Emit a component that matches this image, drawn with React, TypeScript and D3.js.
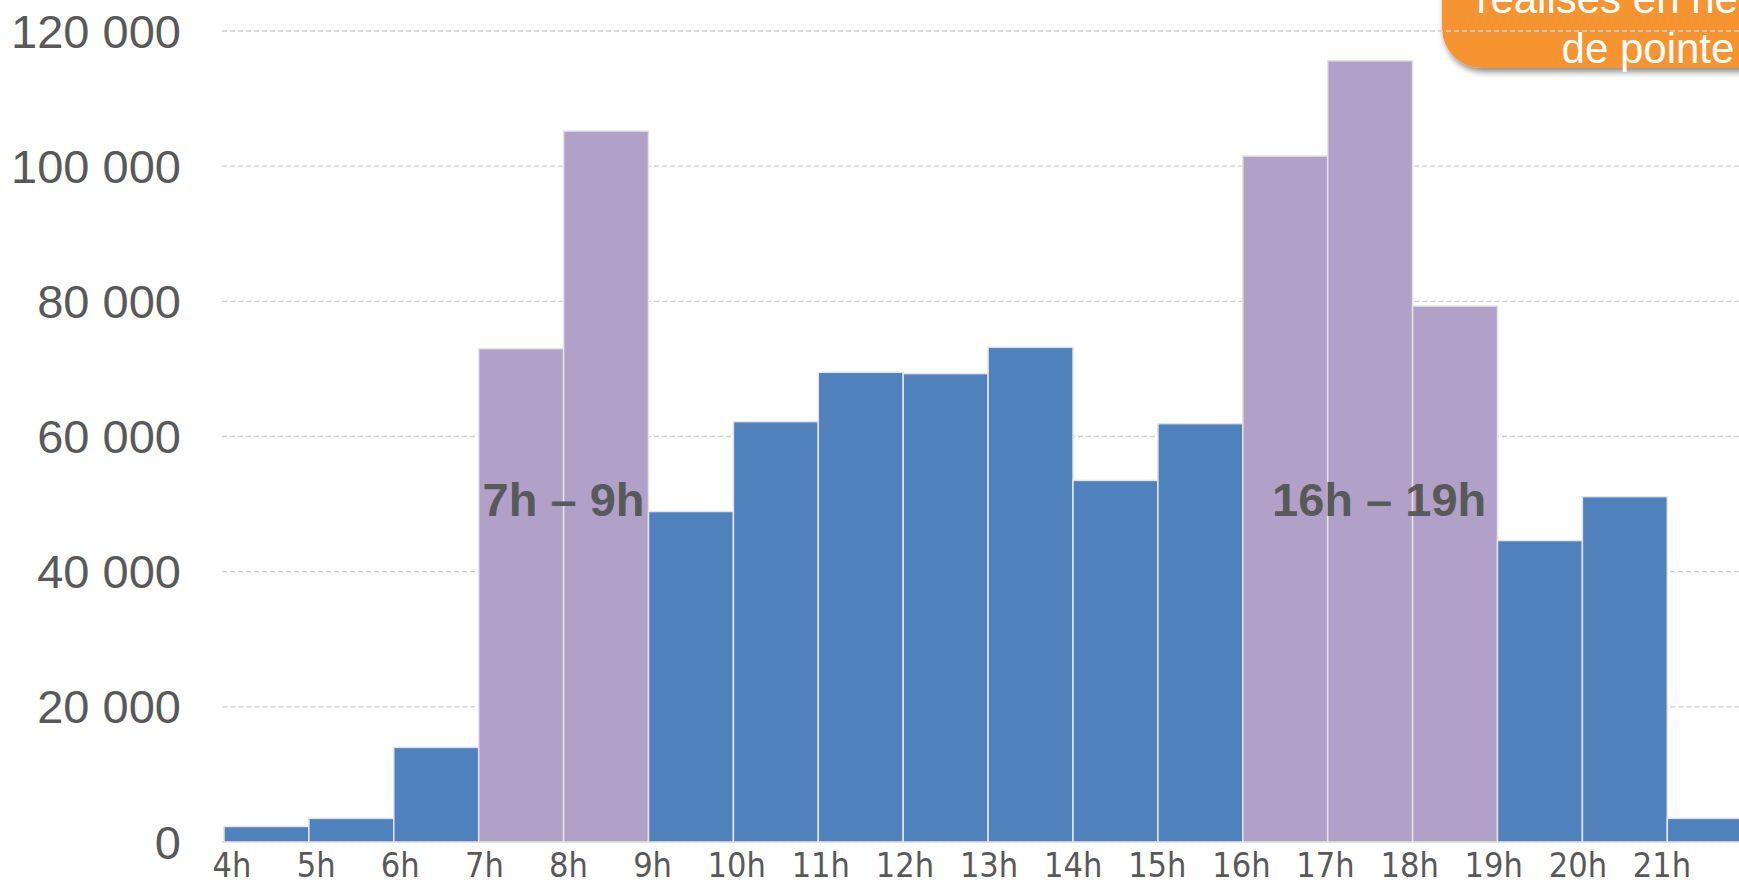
import React from "react";
import * as d3 from "d3";

const hours = ["4h","5h","6h","7h","8h","9h","10h","11h","12h","13h","14h","15h","16h","17h","18h","19h","20h","21h"];
const trips = [2300, 3500, 14000, 73000, 105200, 48900, 62200, 69500, 69300, 73200, 53500, 61900, 101500, 115600, 79300, 44600, 51100, 3500];
const peak = [false,false,false,true,true,false,false,false,false,false,false,false,true,true,true,false,false,false];
const yTicks = [0, 20000, 40000, 60000, 80000, 100000, 120000];
const peakRanges = [{ label: "7h – 9h", from: 3, to: 5, shift: 0 }, { label: "16h – 19h", from: 12, to: 15, shift: 9 }];
const calloutLines = ["réalisés en heures", "de pointe"];

const W = 1739, H = 882;

export default function App() {
  const x = d3.scaleLinear().domain([0, hours.length]).range([224, 224 + hours.length * 84.9]);
  const xl = d3.scaleLinear().domain([0, hours.length - 1]).range([232, 1662]);
  const y = d3.scaleLinear().domain([0, 120000]).range([842, 31]);
  const fmt = (v: number) => d3.format(",")(v).replace(/,/g, " ");
  const grey = "#595959";
  return (
    <svg width={W} height={H} style={{ position: "absolute", left: 0, top: 0, background: "#fff" }}>
      <defs>
        <filter id="sh" x="-20%" y="-20%" width="140%" height="160%">
          <feGaussianBlur in="SourceAlpha" stdDeviation="3" />
          <feOffset dx="2" dy="4" result="b" />
          <feComponentTransfer><feFuncA type="linear" slope="0.45" /></feComponentTransfer>
          <feMerge><feMergeNode /><feMergeNode in="SourceGraphic" /></feMerge>
        </filter>
      </defs>
      {/* callout */}
      <g filter="url(#sh)">
        <rect x={1442} y={-80} width={440} height={148} rx={40} ry={40} fill="#f79433" />
      </g>
      {calloutLines.map((t, i) => (
        <text key={t} x={1648} y={13 + i * 50} textAnchor="middle" fill="#fff"
          style={{ font: "42px 'Liberation Sans', Arial, sans-serif" }}>{t}</text>
      ))}
      {/* gridlines */}
      {yTicks.map(t => (
        <line key={t} x1={222} x2={W} y1={y(t)} y2={y(t)} stroke="#d0d0d0" strokeWidth={1.3} strokeDasharray="5,3" />
      ))}
      {/* y labels */}
      {yTicks.map(t => (
        <text key={"l" + t} x={181} y={y(t)} textAnchor="end" dominantBaseline="central" fill={grey}
          style={{ font: "47px 'Liberation Sans', Arial, sans-serif" }}>{fmt(t)}</text>
      ))}
      {/* bars */}
      {trips.map((v, i) => (
        <rect key={i} x={x(i)} y={y(v)} width={x(i + 1) - x(i)} height={y(0) - y(v)}
          fill={peak[i] ? "#b1a1c8" : "#4f81bd"} stroke="#e4e4e4" strokeWidth={1.5} />
      ))}
      {/* x labels */}
      {hours.map((h, i) => (
        <text key={h} x={xl(i)} y={877} textAnchor="middle" fill={grey}
          style={{ font: "34px 'Liberation Sans Narrow', 'Arial Narrow', 'DejaVu Sans Condensed', sans-serif" }}>{h}</text>
      ))}
      {/* peak annotations */}
      {peakRanges.map(p => (
        <text key={p.label} x={x((p.from + p.to) / 2) + p.shift} y={499} textAnchor="middle" dominantBaseline="central"
          fill={grey} style={{ font: "bold 47px 'Liberation Sans', Arial, sans-serif" }}>{p.label}</text>
      ))}
    </svg>
  );
}
